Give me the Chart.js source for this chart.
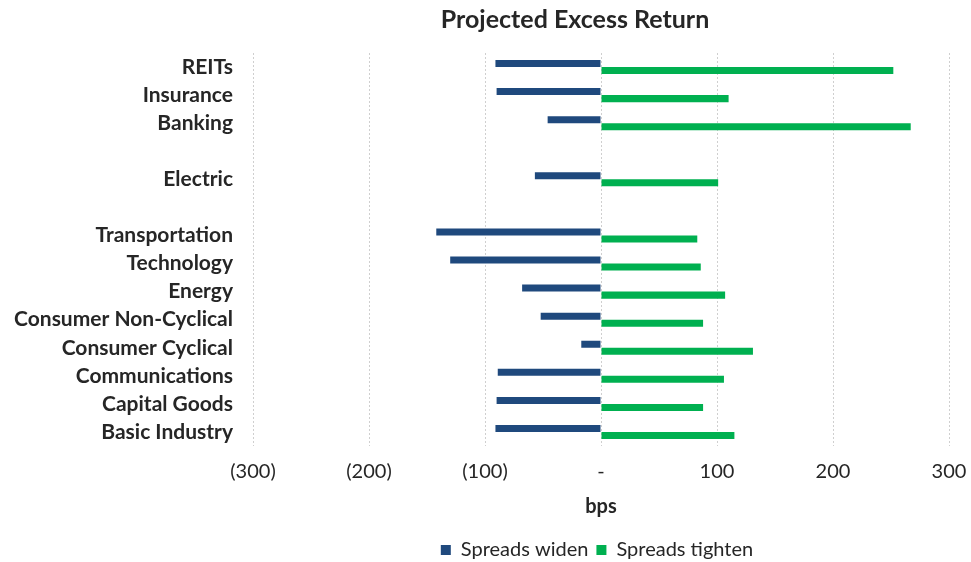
<!DOCTYPE html>
<html>
<head>
<meta charset="utf-8">
<title>Projected Excess Return</title>
<script src="https://cdn.jsdelivr.net/npm/chart.js@4/dist/chart.umd.min.js"></script>
<style>
  html, body { margin: 0; padding: 0; background: #ffffff; }
  #wrap { position: relative; width: 971px; height: 562px; }
</style>
</head>
<body>
<div id="wrap"><canvas id="chart"></canvas></div>
<script>
// Sectors top to bottom; empty strings leave blank rows between groups
const sectors = [
  'REITs', 'Insurance', 'Banking', '',
  'Electric', '',
  'Transportation', 'Technology', 'Energy', 'Consumer Non-Cyclical',
  'Consumer Cyclical', 'Communications', 'Capital Goods', 'Basic Industry'
];

// Projected excess return (bps) in each scenario
const spreadsWiden = [
  -91, -90, -46, null,
  -57, null,
  -142, -130, -68, -52,
  -17, -89, -90, -91
];
const spreadsTighten = [
  252, 110, 267, null,
  101, null,
  83, 86, 107, 88,
  131, 106, 88, 115
];

const seriesNames = ['Spreads widen', 'Spreads tighten'];
const chartTitle = 'Projected Excess Return';
const axisTitle = 'bps';
const axisMin = -300;
const axisMax = 300;
const axisStep = 100;

// Accounting-style tick text: negatives in parentheses, zero as a dash
function bpsLabel(v) {
  if (v === 0) return '-';
  return v < 0 ? '(' + Math.abs(v) + ')' : String(v);
}

// Centre the title and legend over the plot area rather than the canvas
const centreBlocks = {
  id: 'centreBlocks',
  afterLayout(chart) {
    const mid = (chart.chartArea.left + chart.chartArea.right) / 2;
    const t = chart.titleBlock;
    if (t) {
      const dt = (mid - 26) - (t.left + t.right) / 2;
      t.left += dt; t.right += dt;
    }
    const l = chart.legend;
    if (l) {
      const dl = (mid - 4) - (l.left + l.right) / 2;
      l.left += dl; l.right += dl;
      l.top += 8; l.bottom += 8;
    }
  }
};

Chart.defaults.font.family = 'Lato, "Open Sans", sans-serif';
Chart.defaults.color = '#262626';

new Chart(document.getElementById('chart'), {
  type: 'bar',
  data: {
    labels: sectors,
    datasets: [
      {
        label: seriesNames[0],
        data: spreadsWiden,
        backgroundColor: '#1F497D',
        categoryPercentage: 0.5,
        barPercentage: 1.0
      },
      {
        label: seriesNames[1],
        data: spreadsTighten,
        backgroundColor: '#00B050',
        categoryPercentage: 0.5,
        barPercentage: 1.0
      }
    ]
  },
  options: {
    indexAxis: 'y',
    responsive: true,
    maintainAspectRatio: false,
    animation: false,
    devicePixelRatio: 1,
    layout: { padding: { left: 0, right: 22, top: 0, bottom: 0 } },
    scales: {
      x: {
        min: axisMin,
        max: axisMax,
        grid: {
          color: '#cfcfcf',
          lineWidth: 1,
          drawTicks: false,
          borderDash: [2, 2]
        },
        border: { display: false, dash: [2, 2] },
        ticks: {
          stepSize: axisStep,
          padding: 14,
          font: { size: 20 },
          color: '#262626',
          callback: (v) => bpsLabel(v)
        },
        title: {
          display: true,
          text: axisTitle,
          font: { size: 20, weight: 'bold' },
          color: '#262626',
          padding: { top: 4, bottom: 5 }
        },
        afterFit(scale) {
          scale.height = 78;
          scale.paddingLeft = 0;
          scale.paddingRight = 0;
        }
      },
      y: {
        grid: { display: false, drawTicks: false },
        border: { display: false },
        ticks: {
          padding: 20,
          font: { size: 21, weight: 'bold' },
          color: '#262626',
          autoSkip: false
        },
        afterFit(scale) { scale.width = 253; }
      }
    },
    plugins: {
      title: {
        display: true,
        text: chartTitle,
        font: { size: 25, weight: 'bold' },
        color: '#262626',
        padding: { top: 5, bottom: 18 }
      },
      legend: {
        position: 'bottom',
        labels: {
          boxWidth: 10,
          boxHeight: 10,
          padding: 8,
          font: { size: 20 },
          color: '#262626'
        }
      },
      tooltip: { enabled: false }
    }
  },
  plugins: [centreBlocks]
});
</script>
</body>
</html>
